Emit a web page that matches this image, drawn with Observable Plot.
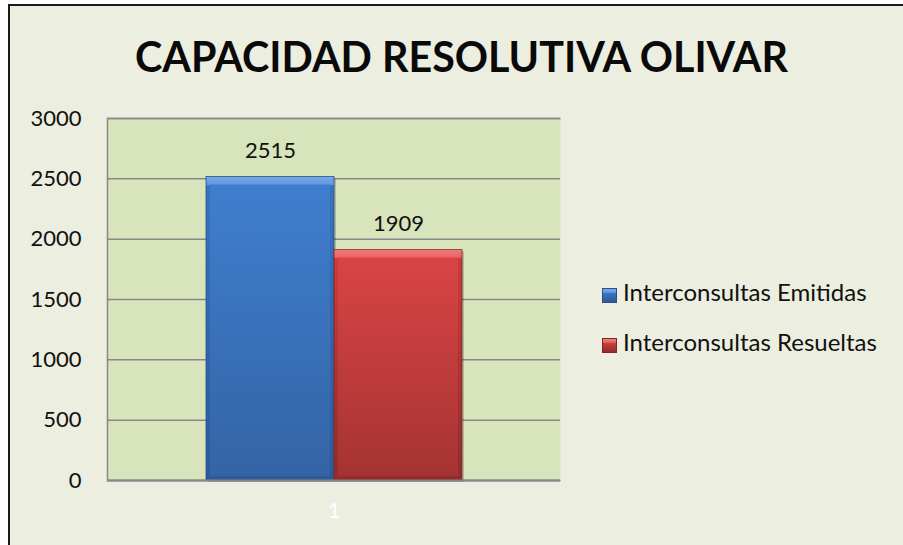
<!DOCTYPE html>
<html>
<head>
<meta charset="utf-8">
<script src="https://cdn.jsdelivr.net/npm/d3@7"></script>
<script src="https://cdn.jsdelivr.net/npm/@observablehq/plot@0.6"></script>
<style>
  html, body { margin: 0; padding: 0; width: 903px; height: 545px; overflow: hidden; background: #ffffff; font-family: Lato, "DejaVu Sans", sans-serif; }
  #box { position: absolute; left: 8px; top: 4px; width: 1000px; height: 1000px; border-left: 2px solid #1a1a1a; border-top: 2px solid #1a1a1a; background: #ECEEDF; }
  #title { position: absolute; left: 135px; top: 31px; font-family: Lato, sans-serif; font-weight: 700; font-size: 42px; line-height: 1.2; color: #0a0a0a; white-space: nowrap; transform-origin: 0 0; }
  #chart { position: absolute; left: 0; top: 100px; }
  .leg { position: absolute; left: 602px; font-family: Lato, sans-serif; font-size: 24px; line-height: 1.2; color: #111; white-space: nowrap; }
  .sw { position: absolute; left: 0; width: 15px; height: 15px; box-sizing: border-box; }
  .lt { position: absolute; left: 21px; top: 0; }
</style>
</head>
<body>
<div id="box"></div>
<div id="title"></div>
<div id="chart"></div>
<div id="legend"></div>
<script>
const title = "CAPACIDAD RESOLUTIVA OLIVAR";
const categories = ["1"];
const series = ["Interconsultas Emitidas", "Interconsultas Resueltas"];
const values = [2515, 1909];
const yTicks = [0, 500, 1000, 1500, 2000, 2500, 3000];
const seriesColors = ["blue", "red"];

const data = series.map((s, i) => ({category: categories[0], series: s, value: values[i], key: seriesColors[i]}));

const W = 903, H = 445, mL = 107, mR = 343, mT = 18, mB = 65;
const fw = W - mL - mR, fh = H - mT - mB;

const barMarks = [];
data.forEach(d => {
  barMarks.push(Plot.barY([d], {x: "series", y: "value", fill: "#000", fillOpacity: 0.18, dx: 2, dy: 2}));
  barMarks.push(Plot.barY([d], {x: "series", y: "value", fill: `url(#${d.key}Edge)`, stroke: d.key === "blue" ? "#2a4f85" : "#7e2626", strokeWidth: 0.8}));
  barMarks.push(Plot.barY([d], {x: "series", y: "value", fill: `url(#${d.key}Main)`, insetLeft: 4, insetRight: 4, insetTop: 8, insetBottom: 4}));
});

const chart = Plot.plot({
  width: W, height: H,
  marginLeft: mL, marginRight: mR, marginTop: mT, marginBottom: mB,
  style: {background: "transparent", fontFamily: "Lato, sans-serif", overflow: "visible"},
  x: {domain: series, paddingInner: 0, paddingOuter: 0.76, axis: null},
  y: {domain: [0, 3000]},
  marks: [
    Plot.frame({fill: "#D8E4BC", stroke: "#878787", strokeWidth: 1.5, strokeDasharray: `${fw} ${fh} ${fw + fh}`}),
    Plot.ruleY(yTicks, {stroke: "#878787", strokeWidth: 1.5}),
    Plot.axisY({ticks: yTicks, tickSize: 0, tickPadding: 26, tickFormat: d => String(d), fontSize: 22, fill: "#111", label: null}),
    ...barMarks,
    Plot.ruleY([0], {stroke: "#878787", strokeWidth: 2}),
    Plot.text(data, {x: "series", y: "value", text: d => String(d.value), lineAnchor: "bottom", dy: -19, fontSize: 22, fill: "#111"}),
    Plot.text(categories, {frameAnchor: "bottom", text: d => d, dy: 37, fill: "#ffffff", fontSize: 22})
  ]
});

// gradients
const svg = d3.select(chart);
const defs = svg.insert("defs", ":first-child");
function grad(id, stops) {
  const g = defs.append("linearGradient").attr("id", id).attr("x1", 0).attr("y1", 0).attr("x2", 0).attr("y2", 1);
  stops.forEach(([o, c]) => g.append("stop").attr("offset", o).attr("stop-color", c));
}
grad("blueMain", [[0, "#3F7ECE"], [1, "#3464A6"]]);
grad("blueEdge", [[0, "#7AAAE9"], [0.027, "#5F98E0"], [0.03, "#3A73BE"], [1, "#2E5A98"]]);
grad("redMain", [[0, "#DA4444"], [1, "#A53333"]]);
grad("redEdge", [[0, "#F07E7E"], [0.035, "#E86060"], [0.038, "#C83C3C"], [1, "#922C2C"]]);
document.getElementById("chart").appendChild(chart);

// title
const t = document.getElementById("title");
t.textContent = title;
function fitTitle() {
  t.style.transform = "none";
  const w = t.getBoundingClientRect().width;
  t.style.transform = `scaleX(${653 / w})`;
}
fitTitle();
if (document.fonts && document.fonts.ready) document.fonts.ready.then(fitTitle);

// legend
const legend = document.getElementById("legend");
const swatchStyles = {
  blue: "background: linear-gradient(to bottom, #7AAAE9 0%, #5F98E0 25%, #3A73BE 35%, #2E5A98 100%); border: 1px solid #2a4f85;",
  red: "background: linear-gradient(to bottom, #F07E7E 0%, #E86060 25%, #C83C3C 35%, #922C2C 100%); border: 1px solid #7e2626;"
};
const legTops = [278, 328];
series.forEach((s, i) => {
  const row = document.createElement("div");
  row.className = "leg";
  row.style.top = legTops[i] + "px";
  const sw = document.createElement("div");
  sw.className = "sw";
  sw.style.cssText = swatchStyles[seriesColors[i]] + "top: 10px;";
  const lt = document.createElement("div");
  lt.className = "lt";
  lt.textContent = s;
  row.appendChild(sw);
  row.appendChild(lt);
  legend.appendChild(row);
});
</script>
</body>
</html>
